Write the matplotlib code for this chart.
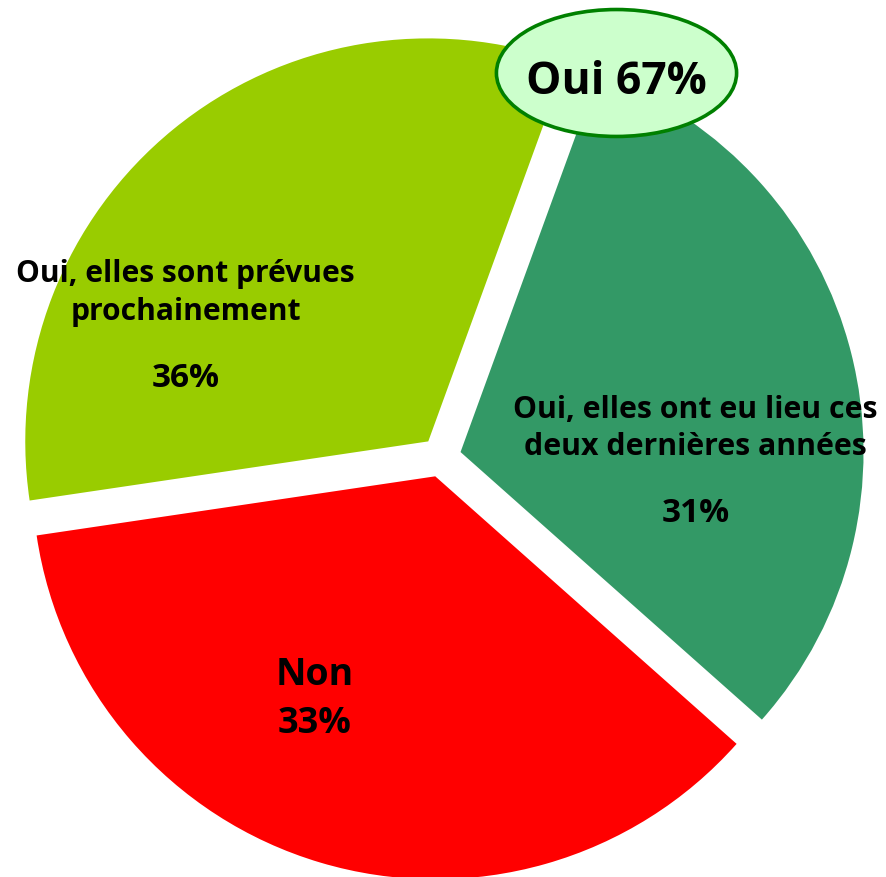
import matplotlib.pyplot as plt
from matplotlib.patches import Ellipse

plt.rcParams['font.family'] = ['Open Sans', 'DejaVu Sans']

# slices clockwise from the top, green first (shares)
categories = ['Oui, elles ont eu lieu ces\ndeux dernières années',
              'Non',
              'Oui, elles sont prévues\nprochainement']
shares = [31.0, 36.1, 32.9]
pct_labels = ['31%', '33%', '36%']
colors = ['#339966', '#ff0000', '#99cc00']
total_label = 'Oui 67%'

fig = plt.figure(figsize=(8.86, 8.78), dpi=100)
ax = fig.add_axes([0, 0, 1, 1])

ax.pie(shares, colors=colors, startangle=70, counterclock=False,
       explode=[0.05] * len(shares), radius=1,
       wedgeprops=dict(linewidth=0))

ax.set_xlim(-1.0943, 1.1042)
ax.set_ylim(-1.0422, 1.1365)
ax.axis('off')

# text placement: (x, first baseline, line step, pct baseline, name size, pct size)
place = [
    (0.632, 0.0993, 0.0919, -0.159, 21.8, 24),
    (-0.314, -0.563, 0.0, -0.682, 27, 26),
    (-0.634, 0.4367, 0.0943, 0.176, 21.6, 24),
]
for name, pct, (x, y0, step, yp, fs, fsp) in zip(categories, pct_labels, place):
    for i, line in enumerate(name.split('\n')):
        ax.text(x, y0 - i * step, line, ha='center', va='baseline',
                fontsize=fs, fontweight='bold', color='black')
    ax.text(x, yp, pct, ha='center', va='baseline', fontsize=fsp,
            fontweight='bold', color='black')

ell = Ellipse((0.4355, 0.9529), 0.596, 0.315, facecolor='#ccffcc',
              edgecolor='#008000', linewidth=2.6, zorder=5)
ax.add_patch(ell)
ax.text(0.4355, 0.9032, total_label, ha='center', va='baseline',
        fontsize=32, fontweight='bold', color='black', zorder=6)

fig.savefig('out.png', dpi=100)
